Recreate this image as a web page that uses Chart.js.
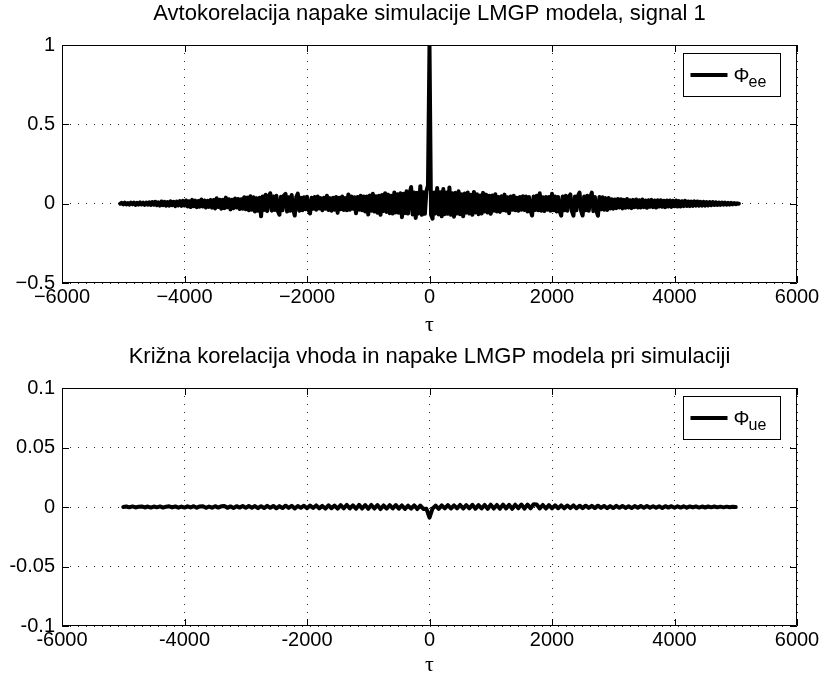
<!DOCTYPE html>
<html>
<head>
<meta charset="utf-8">
<script src="https://cdn.jsdelivr.net/npm/chart.js@4.4.1/dist/chart.umd.min.js"></script>
<style>
  html, body { margin: 0; padding: 0; background: #fff; }
  #wrap { position: relative; width: 823px; height: 680px; }
  #wrap canvas { position: absolute; left: 0; top: 0; }
</style>
</head>
<body>
<div id="wrap">
  <canvas id="autoChart" width="823" height="680"></canvas>
  <canvas id="crossChart" width="823" height="680"></canvas>
</div>
<script>
// lag grids (tau) for the two correlation functions
const lagStepEE = 25;
const lagStartEE = -5050;
const lagStepUE = 50;
const lagStartUE = -5000;

// autocorrelation of the simulation error, Phi_ee(tau)
const phiEE = [
  0.000, 0.005, -0.004, 0.006, -0.005, 0.004, -0.006, 0.007, -0.004, 0.006, -0.007, 0.005, -0.006, 0.008, -0.005, 0.006, -0.008, 0.007, -0.006, 0.009,
  -0.008, 0.010, -0.007, 0.012, -0.010, 0.008, -0.012, 0.014, -0.009, 0.011, -0.013, 0.010, -0.012, 0.015, -0.010, 0.012, -0.016, 0.013, -0.011, 0.016,
  -0.014, 0.018, -0.012, 0.020, -0.017, 0.015, -0.021, 0.024, -0.016, 0.019, -0.022, 0.017, -0.019, 0.026, -0.018, 0.020, -0.024, 0.018, -0.020, 0.023,
  -0.025, 0.023, -0.030, 0.034, -0.021, 0.025, -0.032, 0.024, -0.028, 0.038, -0.023, 0.028, -0.036, 0.025, -0.029, 0.032, -0.024, 0.030, -0.034, 0.028,
  -0.032, 0.040, -0.035, 0.038, -0.042, 0.047, -0.038, 0.041, -0.050, 0.035, -0.045, 0.038, -0.080, 0.045, -0.040, 0.056, -0.047, 0.042, 0.066, -0.044,
  0.045, -0.040, 0.050, -0.047, -0.070, 0.044, -0.042, 0.052, 0.062, -0.050, 0.040, -0.045, 0.055, -0.038, -0.075, 0.042, 0.064, -0.045, 0.038, -0.042,
  0.040, -0.035, 0.044, -0.038, -0.062, 0.038, -0.032, 0.042, -0.038, 0.045, -0.030, 0.035, -0.042, 0.038, -0.032, 0.050, -0.040, 0.035, -0.045, 0.038,
  -0.038, 0.042, -0.058, 0.038, -0.035, 0.045, -0.040, 0.035, -0.042, 0.058, -0.038, 0.045, -0.032, 0.040, -0.060, 0.042, -0.038, 0.050, -0.042, 0.045,
  -0.050, 0.045, -0.068, 0.052, -0.045, 0.062, -0.050, 0.047, -0.057, 0.050, -0.070, 0.055, -0.047, 0.066, -0.052, 0.057, -0.060, 0.050, -0.062, 0.070,
  -0.055, 0.060, -0.057, 0.066, -0.085, 0.062, -0.060, 0.078, -0.062, 0.064, 0.105, -0.068, 0.070, -0.090, 0.068, -0.062, 0.110, -0.070, 0.072, -0.064,
  0.080, 0.115, 1.000, -0.070, -0.095, 0.070, -0.062, 0.098, -0.068, 0.072, -0.080, 0.092, -0.066, 0.070, -0.064, 0.102, -0.070, 0.066, -0.082, 0.068,
  -0.062, 0.078, -0.066, 0.060, -0.080, 0.064, -0.057, 0.070, -0.062, 0.056, -0.070, 0.074, -0.055, 0.060, -0.066, 0.052, -0.062, 0.068, -0.050, 0.057,
  -0.056, 0.050, -0.064, 0.052, -0.045, 0.060, -0.050, 0.042, -0.052, 0.047, -0.042, 0.057, -0.045, 0.040, -0.060, 0.045, -0.038, 0.050, -0.042, 0.038,
  -0.045, 0.042, -0.038, 0.047, -0.040, 0.045, -0.050, 0.042, -0.044, -0.075, 0.045, -0.040, 0.050, -0.042, 0.065, -0.045, 0.040, -0.047, 0.042, -0.038,
  0.042, -0.045, 0.062, -0.042, 0.045, -0.050, 0.042, -0.047, -0.076, 0.045, -0.042, 0.050, -0.045, 0.042, 0.058, -0.047, -0.076, 0.045, -0.042, 0.050,
  0.070, -0.045, -0.075, 0.045, -0.042, 0.050, -0.045, 0.042, 0.070, -0.047, 0.042, -0.045, -0.076, 0.042, -0.036, 0.040, -0.038, 0.035, -0.040, 0.036,
  -0.030, 0.028, -0.032, 0.026, -0.028, 0.030, -0.024, 0.028, -0.030, 0.024, -0.026, 0.030, -0.024, 0.022, -0.028, 0.024, -0.022, 0.026, -0.024, 0.022,
  -0.024, 0.026, -0.022, 0.020, -0.026, 0.022, -0.020, 0.024, -0.022, 0.020, -0.024, 0.022, -0.018, 0.022, -0.020, 0.018, -0.022, 0.020, -0.018, 0.020,
  -0.020, 0.018, -0.016, 0.020, -0.018, 0.016, -0.018, 0.015, -0.016, 0.018, -0.015, 0.014, -0.016, 0.013, -0.014, 0.015, -0.012, 0.014, -0.013, 0.012,
  -0.012, 0.011, -0.012, 0.010, -0.011, 0.010, -0.009, 0.010, -0.008, 0.009, -0.008, 0.007, -0.008, 0.007, -0.006, 0.007, -0.006, 0.005, -0.006, 0.005,
  -0.004, 0.004, -0.003, 0.002, 0.000
];

// cross-correlation of the input and the simulation error, Phi_ue(tau)
const phiUE = [
  0.0000, 0.0004, -0.0003, 0.0005, -0.0004, 0.0003, 0.0005, -0.0004, 0.0004, -0.0005,
  0.0004, -0.0003, 0.0005, -0.0005, 0.0003, 0.0006, -0.0004, 0.0005, -0.0006, 0.0004,
  -0.0005, 0.0006, -0.0004, 0.0007, -0.0006, 0.0005, 0.0007, -0.0007, 0.0004, -0.0006,
  0.0007, -0.0005, 0.0006, 0.0008, -0.0007, 0.0005, -0.0008, 0.0007, -0.0005, 0.0008,
  -0.0007, 0.0009, -0.0006, 0.0008, -0.0010, 0.0007, -0.0009, 0.0010, -0.0007, 0.0009,
  -0.0011, 0.0008, -0.0009, 0.0011, -0.0008, 0.0010, -0.0012, 0.0009, -0.0007, 0.0011,
  -0.0010, 0.0012, -0.0008, 0.0013, -0.0011, 0.0009, -0.0013, 0.0014, -0.0010, 0.0012,
  -0.0013, 0.0015, -0.0011, 0.0017, -0.0012, 0.0014, -0.0015, 0.0018, -0.0013, 0.0016,
  -0.0015, 0.0017, -0.0013, 0.0016, -0.0017, 0.0013, -0.0014, 0.0015, -0.0012, 0.0016,
  -0.0014, 0.0013, -0.0016, 0.0011, -0.0013, 0.0014, -0.0017, 0.0012, -0.0016, -0.0015,
  -0.0090,
  -0.0012, 0.0011, -0.0015, 0.0013, -0.0011, 0.0016, -0.0013, 0.0014, -0.0012, 0.0017,
  -0.0013, 0.0015, -0.0011, 0.0018, -0.0014, 0.0016, -0.0012, 0.0017, -0.0015, 0.0019,
  -0.0013, 0.0017, -0.0014, 0.0020, -0.0012, 0.0018, -0.0015, 0.0019, -0.0011, 0.0021,
  -0.0013, 0.0020, -0.0011, 0.0023, 0.0021, -0.0012, 0.0017, -0.0013, 0.0015, -0.0011,
  0.0014, -0.0010, 0.0013, -0.0011, 0.0012, -0.0009, 0.0013, -0.0010, 0.0011, -0.0009,
  0.0011, -0.0008, 0.0010, -0.0009, 0.0011, -0.0008, 0.0009, -0.0010, 0.0008, -0.0009,
  0.0010, -0.0007, 0.0009, -0.0008, 0.0007, -0.0009, 0.0008, -0.0006, 0.0009, -0.0007,
  0.0008, -0.0006, 0.0007, -0.0007, 0.0006, -0.0008, 0.0007, -0.0005, 0.0007, -0.0006,
  0.0006, -0.0005, 0.0006, -0.0006, 0.0005, -0.0004, 0.0005, -0.0005, 0.0004, -0.0004,
  0.0004, -0.0003, 0.0004, -0.0003, 0.0003, -0.0003, 0.0003, -0.0002, 0.0002, 0.0000
];

// axis ticks and their labels
const xTicks = [-6000, -4000, -2000, 0, 2000, 4000, 6000];
const xTickLabelsTop = ['\u22126000', '\u22124000', '\u22122000', '0', '2000', '4000', '6000'];
const xTickLabelsBottom = ['-6000', '-4000', '-2000', '0', '2000', '4000', '6000'];
const yTicksTop = [-0.5, 0, 0.5, 1];
const yTickLabelsTop = ['\u22120.5', '0', '0.5', '1'];
const yTicksBottom = [-0.1, -0.05, 0, 0.05, 0.1];
const yTickLabelsBottom = ['-0.1', '-0.05', '0', '0.05', '0.1'];

const SANS = '"Liberation Sans", Arial, Helvetica, sans-serif';
const tickFont = { family: SANS, size: 20 };

function toPoints(start, step, values) {
  return values.map((v, i) => ({ x: start + i * step, y: v }));
}

// title above the axes
const titlePlugin = {
  id: 'plotTitle',
  afterDraw(chart, args, opts) {
    const { ctx, chartArea: a } = chart;
    ctx.save();
    ctx.fillStyle = '#000';
    ctx.font = '22px ' + SANS;
    ctx.textAlign = 'center';
    ctx.textBaseline = 'middle';
    ctx.fillText(opts.text, (a.left + a.right) / 2, a.top - opts.offset);
    ctx.restore();
  }
};

// box around the plot with inward tick marks on all four sides
const framePlugin = {
  id: 'boxFrame',
  afterDatasetsDraw(chart) {
    const { ctx, chartArea: a, scales: { x, y } } = chart;
    const len = 7;
    ctx.save();
    ctx.strokeStyle = '#000';
    ctx.lineWidth = 1;
    ctx.beginPath();
    ctx.rect(a.left + 0.5, a.top + 0.5, a.width - 1, a.height - 1);
    x.ticks.forEach(t => {
      const px = Math.round(x.getPixelForValue(t.value)) + 0.5;
      ctx.moveTo(px, a.bottom); ctx.lineTo(px, a.bottom - len);
      ctx.moveTo(px, a.top); ctx.lineTo(px, a.top + len);
    });
    y.ticks.forEach(t => {
      const py = Math.round(y.getPixelForValue(t.value)) + 0.5;
      ctx.moveTo(a.left, py); ctx.lineTo(a.left + len, py);
      ctx.moveTo(a.right, py); ctx.lineTo(a.right - len, py);
    });
    ctx.stroke();
    ctx.restore();
  }
};

// legend box: line sample, Phi and subscript
const legendPlugin = {
  id: 'phiLegend',
  afterDraw(chart, args, opts) {
    const { ctx, chartArea: a } = chart;
    const left = Math.round(a.right) - 114 + 0.5;
    const top = Math.round(a.top) + 8 + 0.5;
    const w = 97, h = 43;
    const mid = top + h / 2;
    ctx.save();
    ctx.fillStyle = '#fff';
    ctx.fillRect(left, top, w, h);
    ctx.strokeStyle = '#000';
    ctx.lineWidth = 1;
    ctx.strokeRect(left, top, w, h);
    ctx.lineWidth = 4;
    ctx.beginPath();
    ctx.moveTo(left + 7, mid);
    ctx.lineTo(left + 44, mid);
    ctx.stroke();
    ctx.fillStyle = '#000';
    ctx.textBaseline = 'alphabetic';
    ctx.font = '20px ' + SANS;
    ctx.fillText('\u03A6', left + 50, mid + 7);
    ctx.font = '16px ' + SANS;
    ctx.fillText(opts.sub, left + 65, mid + 12);
    ctx.restore();
  }
};

function makeChart(id, cfg) {
  return new Chart(document.getElementById(id), {
    type: 'line',
    data: {
      datasets: [{
        data: cfg.points,
        borderColor: '#000',
        borderWidth: 4,
        pointRadius: 0,
        tension: 0,
        fill: false,
        borderJoinStyle: 'round',
        borderCapStyle: 'round'
      }]
    },
    options: {
      responsive: false,
      animation: false,
      devicePixelRatio: 1,
      events: [],
      layout: { padding: cfg.padding },
      plugins: {
        legend: { display: false },
        tooltip: { enabled: false },
        plotTitle: { text: cfg.title, offset: 31 },
        phiLegend: { sub: cfg.sub }
      },
      scales: {
        x: {
          type: 'linear',
          min: -6000,
          max: 6000,
          afterBuildTicks: s => { s.ticks = xTicks.map(v => ({ value: v })); },
          afterFit: s => { s.height = cfg.xAxisHeight; s.paddingLeft = 0; s.paddingRight = 0; },
          ticks: {
            autoSkip: false,
            maxRotation: 0,
            padding: 2,
            color: '#000',
            font: tickFont,
            callback: (v, i) => cfg.xLabels[i]
          },
          grid: { color: 'rgba(0,0,0,0.85)', lineWidth: 1, drawTicks: false },
          border: { display: false, dash: [1, 7] },
          title: {
            display: true,
            text: '\u03C4',
            color: '#000',
            font: { family: '"Liberation Serif", "DejaVu Serif", serif', size: 22 },
            padding: { top: 0, bottom: 2 }
          }
        },
        y: {
          min: cfg.yTicks[0],
          max: cfg.yTicks[cfg.yTicks.length - 1],
          afterBuildTicks: s => { s.ticks = cfg.yTicks.map(v => ({ value: v })); },
          afterFit: s => { s.width = 62; s.paddingTop = 0; s.paddingBottom = 0; },
          ticks: {
            padding: 7,
            color: '#000',
            font: tickFont,
            callback: (v, i) => cfg.yLabels[i]
          },
          grid: { color: 'rgba(0,0,0,0.85)', lineWidth: 1, drawTicks: false },
          border: { display: false, dash: [1, 7] }
        }
      }
    },
    plugins: [titlePlugin, framePlugin, legendPlugin]
  });
}

makeChart('autoChart', {
  points: toPoints(lagStartEE, lagStepEE, phiEE),
  title: 'Avtokorelacija napake simulacije LMGP modela, signal 1',
  sub: 'ee',
  padding: { top: 45, right: 26, bottom: 340, left: 0 },
  xAxisHeight: 57,
  xLabels: xTickLabelsTop,
  yTicks: yTicksTop,
  yLabels: yTickLabelsTop
});

makeChart('crossChart', {
  points: toPoints(lagStartUE, lagStepUE, phiUE),
  title: 'Kri\u017Ena korelacija vhoda in napake LMGP modela pri simulaciji',
  sub: 'ue',
  padding: { top: 388, right: 26, bottom: 0, left: 0 },
  xAxisHeight: 54,
  xLabels: xTickLabelsBottom,
  yTicks: yTicksBottom,
  yLabels: yTickLabelsBottom
});
</script>
</body>
</html>
